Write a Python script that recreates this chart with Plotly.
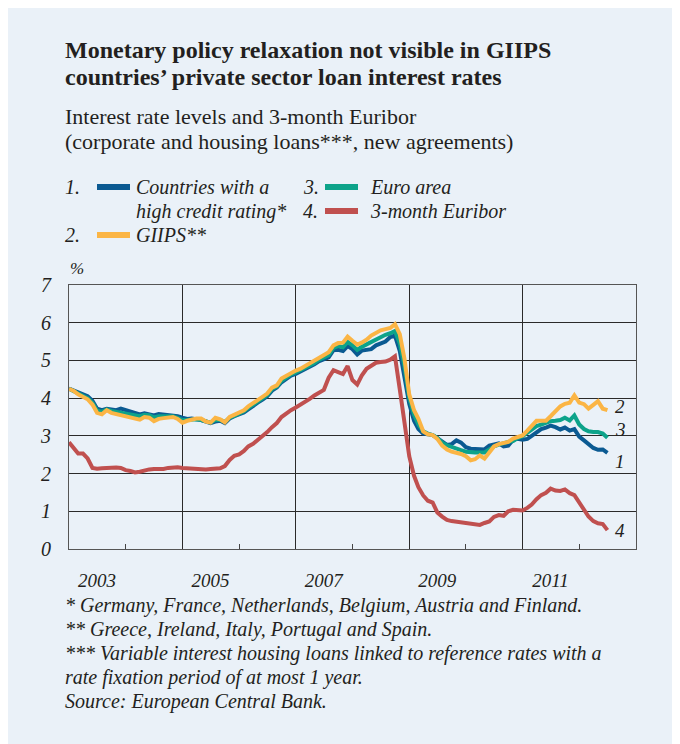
import pandas as pd
import plotly.graph_objects as go

# ---------------- data (monthly, Jan 2003 - Jul 2012) ----------------
months = pd.date_range("2003-01-01", periods=115, freq="MS")

high_rating = [
    4.25, 4.20, 4.15, 4.10, 4.05, 3.93, 3.72, 3.68, 3.72, 3.70, 3.68, 3.72,
    3.68, 3.64, 3.62, 3.57, 3.60, 3.58, 3.54, 3.58, 3.57, 3.55, 3.54, 3.52,
    3.48, 3.45, 3.46, 3.45, 3.42, 3.38, 3.34, 3.38, 3.40, 3.34, 3.46, 3.52,
    3.56, 3.62, 3.70, 3.80, 3.88, 3.96, 4.05, 4.20, 4.28, 4.42, 4.52, 4.60,
    4.64, 4.70, 4.76, 4.83, 4.90, 4.98, 5.03, 5.08, 5.27, 5.28, 5.25, 5.38,
    5.30, 5.16, 5.26, 5.28, 5.30, 5.40, 5.45, 5.50, 5.62, 5.66, 5.25, 4.60,
    3.85, 3.40, 3.18, 3.06, 3.04, 3.02, 2.94, 2.85, 2.76, 2.78, 2.88, 2.82,
    2.70, 2.66, 2.65, 2.64, 2.64, 2.74, 2.78, 2.80, 2.72, 2.74, 2.90, 2.92,
    2.90, 2.92, 3.00, 3.08, 3.18, 3.22, 3.27, 3.23, 3.17, 3.22, 3.14, 3.18,
    2.98, 2.88, 2.77, 2.68, 2.63, 2.64, 2.55,
]

giips = [
    4.25, 4.19, 4.10, 4.03, 3.97, 3.83, 3.61, 3.57, 3.68, 3.61, 3.58, 3.56,
    3.52, 3.50, 3.47, 3.43, 3.50, 3.48, 3.39, 3.45, 3.47, 3.48, 3.50, 3.45,
    3.35, 3.40, 3.44, 3.46, 3.46, 3.38, 3.35, 3.48, 3.44, 3.36, 3.50, 3.56,
    3.61, 3.68, 3.78, 3.87, 3.94, 4.02, 4.12, 4.28, 4.34, 4.52, 4.60, 4.68,
    4.73, 4.78, 4.85, 4.92, 4.98, 5.07, 5.13, 5.22, 5.40, 5.46, 5.47, 5.63,
    5.52, 5.42, 5.47, 5.55, 5.66, 5.72, 5.80, 5.83, 5.86, 5.96, 5.70, 5.05,
    4.10, 3.68, 3.45, 3.12, 3.04, 3.02, 2.92, 2.74, 2.64, 2.58, 2.56, 2.52,
    2.46, 2.35, 2.38, 2.48, 2.40, 2.58, 2.72, 2.78, 2.81, 2.84, 2.93, 2.98,
    3.01, 3.14, 3.27, 3.40, 3.40, 3.40, 3.52, 3.66, 3.78, 3.85, 3.88, 4.07,
    3.88, 3.84, 3.72, 3.82, 3.92, 3.72, 3.68,
]

euro_area = [
    4.25, 4.18, 4.12, 4.06, 4.00, 3.88, 3.67, 3.64, 3.70, 3.66, 3.64, 3.62,
    3.60, 3.57, 3.55, 3.52, 3.56, 3.55, 3.49, 3.52, 3.52, 3.52, 3.52, 3.48,
    3.42, 3.42, 3.44, 3.44, 3.42, 3.38, 3.35, 3.42, 3.42, 3.37, 3.48, 3.53,
    3.58, 3.65, 3.74, 3.83, 3.90, 3.98, 4.08, 4.24, 4.31, 4.46, 4.55, 4.63,
    4.68, 4.74, 4.80, 4.87, 4.93, 5.02, 5.07, 5.14, 5.33, 5.38, 5.35, 5.49,
    5.40, 5.28, 5.36, 5.43, 5.49, 5.56, 5.63, 5.68, 5.72, 5.78, 5.45, 4.85,
    4.00, 3.56, 3.30, 3.12, 3.06, 3.02, 2.95, 2.82, 2.75, 2.70, 2.66, 2.62,
    2.58, 2.56, 2.56, 2.56, 2.56, 2.64, 2.72, 2.77, 2.81, 2.84, 2.86, 2.94,
    2.99, 3.08, 3.19, 3.26, 3.30, 3.35, 3.39, 3.40, 3.42, 3.48, 3.41, 3.54,
    3.30, 3.18, 3.12, 3.10, 3.10, 3.06, 2.95,
]

euribor = [
    2.83, 2.69, 2.53, 2.53, 2.40, 2.15, 2.13, 2.14, 2.15, 2.14, 2.16, 2.15,
    2.09, 2.07, 2.03, 2.05, 2.09, 2.11, 2.12, 2.11, 2.12, 2.15, 2.17, 2.17,
    2.15, 2.14, 2.14, 2.14, 2.13, 2.11, 2.12, 2.13, 2.14, 2.20, 2.36, 2.47,
    2.51, 2.60, 2.72, 2.79, 2.89, 2.99, 3.10, 3.23, 3.34, 3.50, 3.60, 3.68,
    3.75, 3.82, 3.89, 3.98, 4.07, 4.15, 4.22, 4.54, 4.74, 4.69, 4.64, 4.85,
    4.48, 4.36, 4.60, 4.78, 4.86, 4.94, 4.96, 4.97, 5.02, 5.11, 4.24, 3.29,
    2.46, 1.94, 1.64, 1.42, 1.28, 1.23, 0.97, 0.86, 0.77, 0.74, 0.72, 0.71,
    0.68, 0.66, 0.64, 0.64, 0.69, 0.73, 0.85, 0.90, 0.88, 1.00, 1.04, 1.02,
    1.02, 1.09, 1.18, 1.32, 1.43, 1.49, 1.60, 1.55, 1.54, 1.58, 1.48, 1.43,
    1.22, 1.05, 0.86, 0.74, 0.68, 0.66, 0.50,
]

label_years = ["2003", "2005", "2007", "2009", "2011"]
grid_years = ["2003-01-01", "2005-01-01", "2007-01-01", "2009-01-01", "2011-01-01"]
minor_years = ["2004-01-01", "2006-01-01", "2008-01-01", "2010-01-01", "2012-01-01"]
y_ticks = [0, 1, 2, 3, 4, 5, 6, 7]

series_names = ["Countries with a high credit rating*", "GIIPS**", "Euro area", "3-month Euribor"]

# ---------------- styling ----------------
BLUE = "#0B5A92"
YELLOW = "#FBB545"
TEAL = "#0DA38A"
RED = "#C0504F"
PANEL = "#EAF1F8"
TXT = "#231F20"
SERIF = "Liberation Serif"

OFF = 8                      # page body margin (screen = figure + 8)
W, H = 668, 736
ML, MR, MT, MB = 61, 40, 277, 195
PW, PH = W - ML - MR, H - MT - MB


def pxx(sx):
    return (sx - OFF - ML) / PW


def pxy(sy):
    return (H - MB - (sy - OFF)) / PH


fig = go.Figure()
for y, col, name in [
    (euribor, RED, series_names[3]),
    (high_rating, BLUE, series_names[0]),
    (euro_area, TEAL, series_names[2]),
    (giips, YELLOW, series_names[1]),
]:
    fig.add_trace(go.Scatter(x=months, y=y, mode="lines", name=name,
                             line=dict(color=col, width=4),
                             showlegend=False, hoverinfo="skip"))

shapes = []
annotations = []


def txt(x, y, s, size, bold=False, italic=False, xanchor="left"):
    annotations.append(dict(
        x=pxx(x), y=pxy(y), xref="paper", yref="paper", text=s, showarrow=False,
        xanchor=xanchor, yanchor="middle", borderpad=0,
        font=dict(family=SERIF, size=size, color=TXT,
                  weight="bold" if bold else "normal",
                  style="italic" if italic else "normal")))


# titles
txt(64, 50, "Monetary policy relaxation not visible in GIIPS", 24, bold=True)
txt(64, 77, "countries’ private sector loan interest rates", 24, bold=True)
txt(64, 117, "Interest rate levels and 3-month Euribor", 22)
txt(64, 142, "(corporate and housing loans***, new agreements)", 22)

# legend
legend_items = [
    ("1.", 64, 187, BLUE, 97, ["Countries with a", "high credit rating*"], 135),
    ("2.", 64, 235, YELLOW, 97, ["GIIPS**"], 135),
    ("3.", 302, 187, TEAL, 325, ["Euro area"], 369),
    ("4.", 302, 211, RED, 325, ["3-month Euribor"], 369),
]
for num, nx, ny, col, lx, lines, tx in legend_items:
    txt(nx, ny, num, 20, italic=True)
    shapes.append(dict(type="line", xref="paper", yref="paper",
                       x0=pxx(lx), x1=pxx(lx + 33), y0=pxy(ny), y1=pxy(ny),
                       line=dict(color=col, width=6)))
    for k, s in enumerate(lines):
        txt(tx, ny + 24 * k, s, 20, italic=True)

# unit
txt(69, 268, "%", 17, italic=True)

# end labels
for s, yy in [("2", 406), ("3", 429), ("1", 461), ("4", 530)]:
    txt(614, yy, s, 19, italic=True)

# footnotes
notes = [
    "* Germany, France, Netherlands, Belgium, Austria and Finland.",
    "** Greece, Ireland, Italy, Portugal and Spain.",
    "*** Variable interest housing loans linked to reference rates with a",
    "rate fixation period of at most 1 year.",
    "Source: European Central Bank.",
]
for k, s in enumerate(notes):
    txt(64, 605 + 24 * k, s, 20, italic=True)

fig.update_layout(
    width=W, height=H,
    margin=dict(l=ML, r=MR, t=MT, b=MB, pad=0),
    paper_bgcolor=PANEL, plot_bgcolor=PANEL,
    shapes=shapes, annotations=annotations, showlegend=False,
    xaxis=dict(
        type="date", range=["2003-01-01", "2013-01-01"],
        tickmode="array", tickvals=grid_years, ticktext=label_years,
        ticklabelshift=28, ticks="outside", ticklen=14, tickcolor="rgba(0,0,0,0)",
        tickfont=dict(family=SERIF, size=19, color=TXT, style="italic"),
        showgrid=True, gridcolor="#2a2a2a", gridwidth=1,
        showline=True, linecolor="#555555", linewidth=1.2, mirror=True,
        zeroline=False,
        minor=dict(tickmode="array", tickvals=minor_years, ticks="inside",
                   ticklen=5, tickcolor="#444444", tickwidth=1, showgrid=False),
    ),
    yaxis=dict(
        range=[0, 7], tickmode="array", tickvals=y_ticks,
        ticks="outside", ticklen=13, tickcolor="rgba(0,0,0,0)",
        tickfont=dict(family=SERIF, size=20, color=TXT, style="italic"),
        showgrid=True, gridcolor="#2a2a2a", gridwidth=1,
        showline=True, linecolor="#555555", linewidth=1.2, mirror=True,
        zeroline=False,
    ),
)

fig.write_html("out.html")
